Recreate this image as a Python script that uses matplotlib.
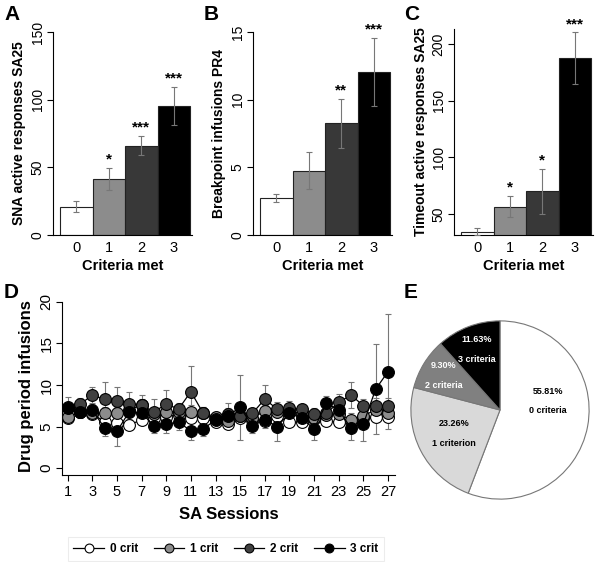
import matplotlib
matplotlib.use("Agg")
import matplotlib.pyplot as plt
import numpy as np

plt.rcParams['font.family'] = ['Liberation Sans', 'DejaVu Sans']

# bar panels A-C
criteria = [0, 1, 2, 3]
bar_colors = ['white', '#8c8c8c', '#383838', 'black']

sna_mean = [21, 41.5, 66, 95.5]
sna_err = [4, 8, 7, 14]
sna_stars = ['', '*', '***', '***']

bp_mean = [2.75, 4.75, 8.25, 12.05]
bp_err = [0.3, 1.35, 1.8, 2.5]
bp_stars = ['', '', '**', '***']

to_mean = [34.5, 56.5, 70, 187.5]
to_err = [3, 9.5, 20, 23]
to_stars = ['', '*', '*', '***']

# panel D, drug period infusions per session
sessions = list(range(1, 28))
crit0 = [6.0, 6.8, 6.5, 5.6, 5.4, 5.2, 5.8, 6.0, 6.2, 6.4, 6.0, 6.0, 5.5, 5.3,
         6.0, 5.8, 5.7, 6.3, 5.5, 5.5, 5.9, 5.7, 5.5, 5.6, 6.0, 6.1, 6.1]
crit1 = [6.1, 6.8, 6.6, 6.6, 6.6, 7.0, 7.6, 6.5, 6.75, 6.8, 6.8, 6.6, 6.2, 5.7,
         6.3, 6.0, 6.9, 6.8, 6.9, 6.5, 6.0, 6.4, 6.5, 5.8, 6.3, 7.0, 6.6]
crit2 = [7.4, 7.7, 8.75, 8.3, 8.1, 7.7, 7.6, 6.75, 7.7, 7.1, 9.2, 6.6, 5.9, 6.5,
         6.3, 6.6, 8.3, 7.1, 7.2, 7.1, 6.5, 6.6, 7.9, 8.8, 7.5, 7.5, 7.5]
crit3 = [7.2, 6.75, 7.0, 4.8, 4.4, 6.8, 6.6, 5.1, 5.3, 5.5, 4.5, 4.7, 5.8, 6.3,
         7.3, 5.1, 5.8, 5.0, 6.6, 6.0, 4.7, 7.8, 7.0, 4.8, 5.3, 9.5, 11.6]
crit0_se = [0.4, 0.4, 0.4, 0.5, 0.5, 0.4, 0.4, 0.4, 0.4, 0.4, 0.4, 0.4, 0.4, 0.4,
            0.4, 0.4, 0.4, 0.4, 0.4, 0.4, 0.4, 0.4, 0.4, 0.4, 0.4, 0.5, 0.5]
crit1_se = [0.6, 0.6, 0.7, 0.8, 0.8, 0.7, 0.7, 0.7, 0.8, 0.7, 0.8, 0.7, 0.6, 0.7,
            0.7, 0.6, 0.7, 0.7, 0.6, 0.6, 0.7, 0.7, 0.7, 0.8, 0.7, 0.8, 0.8]
crit2_se = [1.1, 0.7, 1.0, 2.1, 1.65, 1.5, 1.2, 1.6, 1.65, 0.7, 3.1, 0.8, 0.6, 1.3,
            0.8, 0.6, 1.7, 0.8, 0.9, 0.6, 0.7, 0.8, 1.0, 1.6, 0.8, 0.9, 0.9]
crit3_se = [0.8, 0.7, 0.8, 1.0, 1.8, 0.9, 0.9, 0.9, 1.1, 0.9, 1.1, 0.9, 0.9, 0.9,
            3.95, 0.9, 1.0, 1.75, 0.9, 0.9, 1.3, 0.9, 0.9, 1.4, 2.1, 5.4, 6.95]
group_labels = ['0 crit', '1 crit', '2 crit', '3 crit']
group_colors = ['white', '#8c8c8c', '#404040', 'black']

# panel E
pie_values = [55.81, 23.26, 9.30, 11.63]
pie_names = ['0 criteria', '1 criterion', '2 criteria', '3 criteria']
pie_colors = ['white', '#d9d9d9', '#808080', 'black']
pie_text = ['black', 'black', 'white', 'white']

W, H = 602, 562
fig = plt.figure(figsize=(W / 100, H / 100), dpi=100)


def box(left, top, right, bottom):
    return [left / W, 1 - bottom / H, (right - left) / W, (bottom - top) / H]


def bar_panel(rect, means, errs, stars, ylim, yticks, ylabel, letter, lx):
    ax = fig.add_axes(rect)
    ax.bar(criteria, means, width=1.0, color=bar_colors, edgecolor='#222222',
           linewidth=0.8, zorder=2)
    ax.errorbar(criteria, means, yerr=errs, fmt='none', ecolor='#777777',
                elinewidth=0.8, capsize=2, capthick=0.8, zorder=3)
    for x, m, e, s in zip(criteria, means, errs, stars):
        if s:
            ax.annotate(s, (x, m + e), xytext=(0, 1), textcoords='offset points',
                        ha='center', va='bottom', fontsize=11, fontweight='bold')
    ax.set_xlim(-0.715, 3.56)
    ax.set_ylim(*ylim)
    ax.set_xticks(criteria)
    ax.set_yticks(yticks)
    ax.tick_params(axis='x', length=0, labelsize=10.5, pad=4)
    ax.tick_params(axis='y', length=4, width=0.8, labelsize=10, labelrotation=90, pad=2)
    plt.setp(ax.get_yticklabels(), va='center')
    for sp in ['top', 'right']:
        ax.spines[sp].set_visible(False)
    ax.spines['left'].set_linewidth(0.8)
    ax.spines['bottom'].set_linewidth(0.8)
    ax.set_xlabel('Criteria met', fontsize=10.5, fontweight='bold', labelpad=3)
    ax.set_ylabel(ylabel, fontsize=10, fontweight='bold', labelpad=3)
    fig.text(lx / W, 1 - 15 / H, letter, fontsize=15, fontweight='bold',
             ha='left', va='center')
    return ax


bar_panel(box(53, 32, 192, 235), sna_mean, sna_err, sna_stars, (0, 150),
          [0, 50, 100, 150], 'SNA active responses SA25', 'A', 4)
bar_panel(box(253, 32, 392, 235), bp_mean, bp_err, bp_stars, (0, 15),
          [0, 5, 10, 15], 'Breakpoint infusions PR4', 'B', 204)
bar_panel(box(454, 29, 593, 235), to_mean, to_err, to_stars, (31.5, 213.5),
          [50, 100, 150, 200], 'Timeout active responses SA25', 'C', 404)

# panel D
axd = fig.add_axes(box(62, 298, 395, 475))
means = [crit0, crit1, crit2, crit3]
ses = [crit0_se, crit1_se, crit2_se, crit3_se]
for m, s in zip(means, ses):
    axd.errorbar(sessions, m, yerr=s, fmt='none', ecolor='#777777',
                 elinewidth=0.8, capsize=2, capthick=0.8, zorder=1)
handles = []
for i, (m, c, lab) in enumerate(zip(means, group_colors, group_labels)):
    h, = axd.plot(sessions, m, '-o', color='black', linewidth=0.9,
                  markersize=8.5, markerfacecolor=c, markeredgecolor='black',
                  markeredgewidth=0.8, label=lab, zorder=2 + i)
    handles.append(h)
axd.set_xlim(0.54, 27.57)
axd.set_ylim(-0.84, 20.48)
axd.set_xticks(sessions[::2])
axd.set_yticks([0, 5, 10, 15, 20])
axd.spines['left'].set_bounds(-0.84, 20)
for sp in ['top', 'right']:
    axd.spines[sp].set_visible(False)
axd.tick_params(axis='x', length=4, width=0.8, labelsize=10.5, pad=3)
axd.tick_params(axis='y', length=4, width=0.8, labelsize=11, labelrotation=90, pad=2)
plt.setp(axd.get_yticklabels(), va='center')
axd.set_xlabel('SA Sessions', fontsize=12, fontweight='bold', labelpad=6)
axd.set_ylabel('Drug period infusions', fontsize=12, fontweight='bold', labelpad=4)
fig.text(4 / W, 1 - 293 / H, 'D', fontsize=15, fontweight='bold', ha='left', va='center')

leg = fig.legend(handles=handles, loc='center', bbox_to_anchor=(226 / W, 1 - 549 / H),
                 ncol=4, fontsize=8.5, handlelength=2.6, columnspacing=1.3,
                 handletextpad=0.5, markerscale=0.75, frameon=True, fancybox=False,
                 borderpad=0.5)
leg.get_frame().set_edgecolor('#e8e8e8')
leg.get_frame().set_linewidth(0.8)
for t in leg.get_texts():
    t.set_fontweight('bold')

# panel E
axe = fig.add_axes(box(410, 320, 590, 500))
axe.pie(pie_values, colors=pie_colors, startangle=90, counterclock=False,
        radius=1.0, wedgeprops=dict(edgecolor='#777777', linewidth=0.8))
axe.set_xlim(-1.01, 1.01)
axe.set_ylim(-1.01, 1.01)
axe.set_aspect('equal')
axe.axis('off')
label_r = [0.55, 0.58, 0.74, 0.73]
cum = np.cumsum([0] + pie_values)
for i, (v, name) in enumerate(zip(pie_values, pie_names)):
    mid = (cum[i] + v / 2) / 100.0
    ang = np.deg2rad(90 - 360 * mid)
    x, y = label_r[i] * np.cos(ang), label_r[i] * np.sin(ang)
    if i == 0:
        y += 0.2
    axe.text(x, y + 0.11, '%.2f%%' % v, ha='center', va='center', fontsize=6.5,
             fontweight='bold', color=pie_text[i])
    axe.text(x, y - 0.11, name, ha='center', va='center', fontsize=6.5,
             fontweight='bold', color=pie_text[i])
fig.text(404 / W, 1 - 293 / H, 'E', fontsize=15, fontweight='bold', ha='left', va='center')

fig.savefig('out.png', dpi=100)
